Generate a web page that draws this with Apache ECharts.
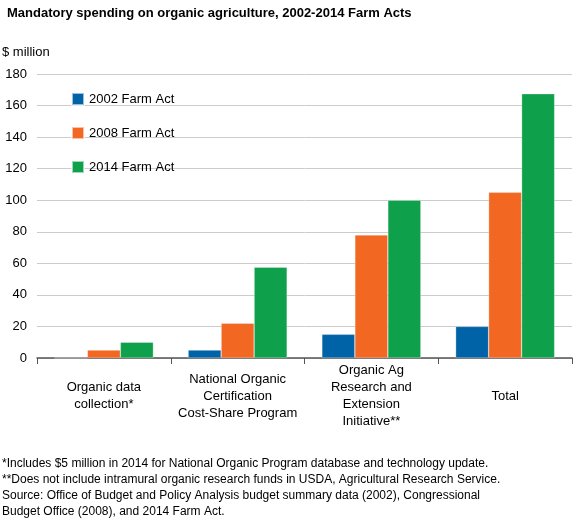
<!DOCTYPE html><html><head><meta charset="utf-8"><script src="https://cdn.jsdelivr.net/npm/echarts@6/dist/echarts.min.js"></script>
<style>body{margin:0}#c{width:583px;height:528px}</style></head><body><div id="c"></div><script>
const categories=["Organic data\ncollection*","National Organic\nCertification\nCost-Share Program","Organic Ag\nResearch and\nExtension\nInitiative**","Total"];
const s2002=[0,5,15,20];
const s2008=[5,22,78,105];
const s2014=[10,57.5,100,167.5];
const yTicks=[0,20,40,60,80,100,120,140,160,180];
const F='Liberation Sans, Arial, sans-serif';
const mk=(n,d,c)=>({name:n,type:'bar',data:d,barGap:'0%',barCategoryGap:'26%',itemStyle:{color:c,borderColor:'rgba(255,255,255,0.6)',borderWidth:0.5}});
const ch=echarts.init(document.getElementById('c'));
ch.setOption({animation:false,textStyle:{fontFamily:F},
title:{text:'Mandatory spending on organic agriculture, 2002-2014 Farm Acts',left:2,top:2,textStyle:{fontSize:13,fontWeight:'bold',color:'#000',fontFamily:F}},
graphic:[{type:'text',left:2,top:46,style:{text:'$ million',fontSize:13,fill:'#000',fontFamily:F}},
{type:'text',left:2,top:456,style:{text:'*Includes $5 million in 2014 for National Organic Program database and technology update.\n**Does not include intramural organic research funds in USDA, Agricultural Research Service.\nSource: Office of Budget and Policy Analysis budget summary data (2002), Congressional\nBudget Office (2008), and 2014 Farm Act.',fontSize:12,lineHeight:16,fill:'#000',fontFamily:F}}],
legend:{orient:'vertical',left:66,top:87,itemWidth:12,itemHeight:12,itemGap:20,icon:'rect',textStyle:{fontSize:13,color:'#000'}},
grid:{left:37,right:11,top:74,bottom:170},
xAxis:{type:'category',data:categories,axisLine:{lineStyle:{color:'#555',width:1.5}},axisTick:{show:true,length:6,lineStyle:{color:'#555'}},axisLabel:{color:'#000',fontSize:13,lineHeight:17,verticalAlign:'middle',margin:38,interval:0}},
yAxis:{type:'value',min:0,max:180,interval:20,axisLine:{show:false},axisTick:{show:false},splitLine:{lineStyle:{color:'#ccc'}},axisLabel:{color:'#000',fontSize:13,margin:10,formatter:v=>yTicks.includes(v)?String(v):''}},
series:[mk('2002 Farm Act',s2002,'#0063a8'),mk('2008 Farm Act',s2008,'#f26722'),mk('2014 Farm Act',s2014,'#0ea04b')]});
</script></body></html>
